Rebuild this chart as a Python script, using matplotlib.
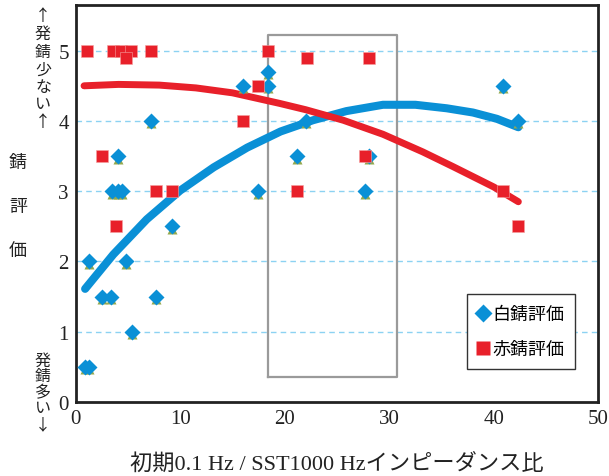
import matplotlib
matplotlib.use("Agg")
import matplotlib.pyplot as plt
import matplotlib.transforms as mtransforms
from matplotlib.lines import Line2D

# white rust (blue diamonds)
white_x = [0.9, 1.25, 1.25, 2.5, 3.4, 3.5, 4.0, 4.45, 4.0, 4.8, 5.35, 7.2, 7.7, 9.2,
           16.0, 17.4, 18.4, 18.4, 21.2, 22.0, 27.7, 28.1, 40.9, 42.35]
white_y = [0.5, 0.5, 2.0, 1.5, 1.5, 3.0, 3.0, 3.0, 3.5, 2.0, 1.0, 4.0, 1.5, 2.5,
           4.5, 3.0, 4.7, 4.5, 3.5, 4.0, 3.0, 3.5, 4.5, 4.0]

# red rust (red squares)
red_x = [1.1, 3.6, 4.3, 5.25, 7.2, 4.8, 2.55, 3.9, 7.7, 9.2, 16.05, 17.4, 18.4,
         22.1, 28.05, 27.7, 21.2, 40.85, 42.35]
red_y = [5.0, 5.0, 5.0, 5.0, 5.0, 4.9, 3.5, 2.5, 3.0, 3.0, 4.0, 4.5, 5.0,
         4.9, 4.9, 3.5, 3.0, 3.0, 2.5]

# trend curves
white_trend_x = [0.9, 3.6, 6.8, 10.0, 13.2, 16.4, 19.6, 22.7, 25.9, 29.4, 32.5, 35.5, 38.0, 40.3, 42.35]
white_trend_y = [1.61, 2.10, 2.60, 3.01, 3.34, 3.62, 3.85, 4.01, 4.14, 4.23, 4.23, 4.18, 4.12, 4.03, 3.91]
red_trend_x = [0.8, 4.1, 8.0, 11.5, 15.0, 19.5, 22.0, 25.6, 29.4, 33.2, 36.1, 40.0, 42.35]
red_trend_y = [4.50, 4.52, 4.51, 4.47, 4.40, 4.25, 4.16, 4.01, 3.81, 3.56, 3.35, 3.06, 2.85]

# highlighted range
box_x = [18.4, 30.7]
box_y = [0.36, 5.22]

x_ticks = [0, 10, 20, 30, 40, 50]
y_ticks = [0, 1, 2, 3, 4, 5]

BLUE = "#0a90d6"
RED = "#e8202a"
OLIVE = "#93a84e"
SERIF = ["Liberation Serif", "Noto Sans CJK JP"]
JP = ["Noto Sans CJK JP", "DejaVu Sans"]

fig = plt.figure(figsize=(6.09, 4.77), dpi=100)
ax = fig.add_axes([75.7 / 609, 1 - 403 / 477, (598.3 - 75.7) / 609, (403 - 6) / 477])

ax.set_xlim(0, 50)
ax.set_ylim(0, 5.65)

for yv in y_ticks[1:]:
    ax.axhline(yv, color="#8cd2f2", lw=1.0, ls=(0, (4, 3)), zorder=1)

ax.plot(box_x + box_x[::-1] + box_x[:1], [box_y[0], box_y[0], box_y[1], box_y[1], box_y[0]],
        color="#9a9a9a", lw=1.6, zorder=2)

ax.plot(white_trend_x, white_trend_y, color=BLUE, lw=5.8, solid_capstyle="round",
        solid_joinstyle="round", zorder=3)
ax.plot(red_trend_x, red_trend_y, color=RED, lw=5.0, solid_capstyle="round",
        solid_joinstyle="round", zorder=3)

shadow = mtransforms.offset_copy(ax.transData, fig=fig, x=0, y=-2.5, units="dots")
ax.plot(white_x, white_y, ls="none", marker="^", ms=7, color=OLIVE, mec="none",
        transform=shadow, zorder=4)
ax.plot(white_x, white_y, ls="none", marker="D", ms=7.8, color=BLUE, mec="none", zorder=5)
ax.plot(red_x, red_y, ls="none", marker="s", ms=8.3, color=RED, mec="#f5a0a0", mew=0.4, zorder=6)

ax.set_xticks(x_ticks)
ax.set_yticks(y_ticks)
ax.tick_params(length=0, pad=5)
for lab in ax.get_xticklabels() + ax.get_yticklabels():
    lab.set_family(SERIF)
    lab.set_fontsize(15)
    lab.set_color("#222222")

for sp in ax.spines.values():
    sp.set_color("#222222")
    sp.set_linewidth(2.0)

ax.set_xlabel("初期0.1 Hz / SST1000 Hzインピーダンス比", family=SERIF, fontsize=16,
              color="#222222", labelpad=18)

handles = [Line2D([], [], ls="none", marker="D", ms=9, color=BLUE, mec="none"),
           Line2D([], [], ls="none", marker="s", ms=10, color=RED, mec="none")]
leg = ax.legend(handles, ["白錆評価", "赤錆評価"], loc="upper left",
                bbox_to_anchor=(0.748, 0.272), borderaxespad=0, fancybox=False,
                edgecolor="#333333", framealpha=1, handlelength=0.6, handletextpad=0.2,
                labelspacing=0.95, borderpad=0.6, prop={"family": JP, "size": 13})
leg.get_frame().set_linewidth(1.0)
leg.set_zorder(10)


def vtext(x, y_top, step, s, size):
    for i, ch in enumerate(s):
        fig.text(x / 609, 1 - (y_top + i * step) / 477, ch, ha="center", va="center",
                 family=JP, fontsize=size, color="#222222")


vtext(43, 17, 17.6, "↑発錆少ない↑", 11.5)
vtext(18, 163, 44, "錆評価", 13)
vtext(43, 361, 16, "発錆多い↓", 11.5)

fig.savefig("out.png", dpi=100)
